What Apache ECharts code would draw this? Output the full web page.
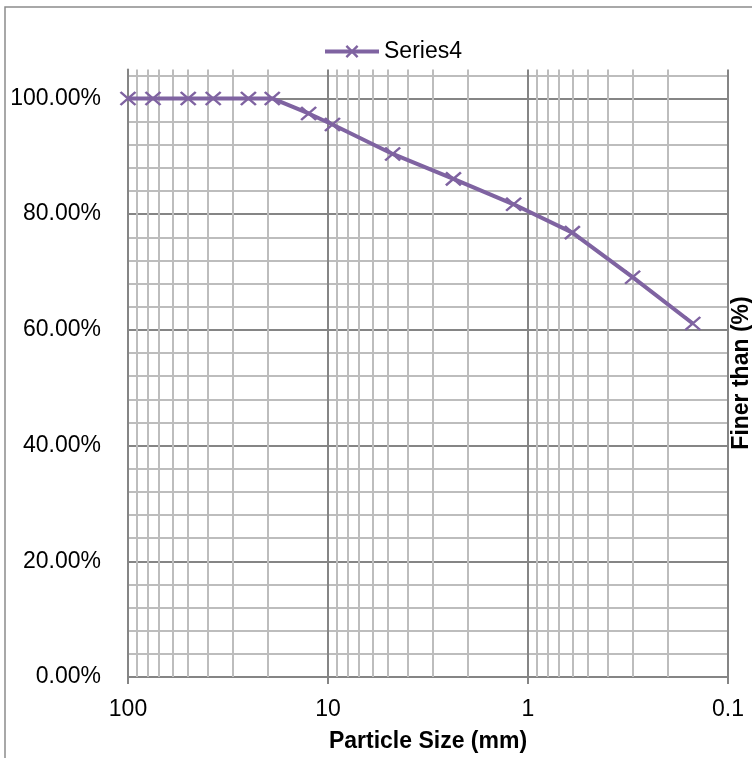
<!DOCTYPE html>
<html>
<head>
<meta charset="utf-8">
<script src="https://cdn.jsdelivr.net/npm/echarts@6/dist/echarts.min.js"></script>
<style>
html,body{margin:0;padding:0;background:#fff;}
#chart{width:752px;height:758px;}
</style>
</head>
<body>
<div id="chart"></div>
<script>
// Particle size (mm) of each sieve
var particleSizes = [100, 75, 50, 37.5, 25, 19, 12.5, 9.5, 4.75, 2.36, 1.18, 0.6, 0.3, 0.15];
// Percent finer (fraction)
var finerThan = [1.0, 1.0, 1.0, 1.0, 1.0, 1.0, 0.974, 0.955, 0.904, 0.861, 0.817, 0.768, 0.691, 0.611];
// Minor vertical gridline positions (log axis, 2..9 of each decade)
var minorXTicks = [90, 80, 70, 60, 50, 40, 30, 20, 9, 8, 7, 6, 5, 4, 3, 2, 0.9, 0.8, 0.7, 0.6, 0.5, 0.4, 0.3, 0.2];
var seriesName = 'Series4';
var xTitle = 'Particle Size (mm)';
var yTitle = 'Finer than (%)';

var FONT = 'Liberation Sans';
var MAJOR = '#858585';
var MINOR = '#bdbdbd';
var PURPLE = '#7f63a1';

var chart = echarts.init(document.getElementById('chart'), null, {renderer: 'canvas'});

var pts = particleSizes.map(function (x, i) { return [x, finerThan[i]]; });

var option = {
  animation: false,
  backgroundColor: '#fff',
  textStyle: {fontFamily: FONT},
  grid: {left: 128, right: 24, top: 69.5, bottom: 81, containLabel: false},
  legend: {
    data: [seriesName],
    left: 318,
    top: 35,
    itemWidth: 54,
    itemHeight: 14,
    itemGap: 10,
    lineStyle: {width: 4, color: PURPLE},
    itemStyle: {color: PURPLE, borderColor: PURPLE, borderWidth: 2.4},
    textStyle: {fontFamily: FONT, fontSize: 23, color: '#000'}
  },
  xAxis: {
    type: 'log',
    logBase: 10,
    min: 0.1,
    max: 100,
    inverse: true,
    name: xTitle,
    nameLocation: 'middle',
    nameGap: 53,
    nameTextStyle: {fontFamily: FONT, fontSize: 23, fontWeight: 'bold', color: '#000'},
    axisLine: {show: true, lineStyle: {color: MAJOR, width: 2}},
    axisTick: {show: true, length: 7, lineStyle: {color: MAJOR, width: 2}},
    axisLabel: {
      margin: 21,
      fontFamily: FONT, fontSize: 23, color: '#000',
      formatter: function (v) { return String(+Number(v).toPrecision(6)); }
    },
    splitLine: {show: true, lineStyle: {color: MAJOR, width: 2}}
  },
  yAxis: {
    type: 'value',
    min: 0,
    max: 1.05,
    interval: 0.04,
    axisLine: {show: true, lineStyle: {color: MAJOR, width: 2}},
    axisTick: {show: false},
    axisLabel: {
      margin: 27,
      showMaxLabel: false,
      fontFamily: FONT, fontSize: 23, color: '#000',
      formatter: function (v) {
        var p = Math.round(v * 100);
        return (p % 20 === 0 && p <= 100) ? p.toFixed(2) + '%' : '';
      }
    },
    splitLine: {
      show: true,
      showMaxLine: false,
      lineStyle: {color: [MAJOR, MINOR, MINOR, MINOR, MINOR], width: 2}
    }
  },
  graphic: [
    {
      type: 'rect',
      silent: true,
      shape: {x: 5, y: 7, width: 900, height: 900},
      style: {fill: 'none', stroke: '#8c8c8c', lineWidth: 1.5},
      z: -10
    },
    {
      type: 'text',
      x: 742,
      y: 373,
      rotation: Math.PI / 2,
      silent: true,
      style: {
        text: yTitle,
        font: 'bold 23px "' + FONT + '"',
        fill: '#000',
        align: 'center',
        verticalAlign: 'middle'
      }
    }
  ],
  series: [
    {
      name: 'minorGrid',
      type: 'line',
      data: [],
      silent: true,
      z: 1,
      markLine: {
        silent: true,
        symbol: ['none', 'none'],
        label: {show: false},
        lineStyle: {color: MINOR, width: 2, type: 'solid'},
        emphasis: {disabled: true},
        data: minorXTicks.map(function (v) { return {xAxis: v}; })
      }
    },
    {
      name: seriesName,
      type: 'line',
      data: pts,
      z: 5,
      symbol: 'path://M0,0L10,10M10,0L0,10',
      symbolSize: [15, 13],
      symbolKeepAspect: false,
      showAllSymbol: true,
      lineStyle: {color: PURPLE, width: 4},
      itemStyle: {color: PURPLE, borderColor: PURPLE, borderWidth: 2.4}
    }
  ]
};
chart.setOption(option);
</script>
</body>
</html>
